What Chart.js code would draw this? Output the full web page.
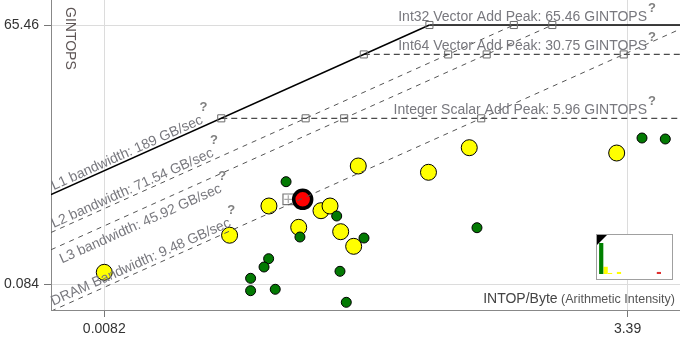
<!DOCTYPE html>
<html>
<head>
<meta charset="utf-8">
<script src="https://cdn.jsdelivr.net/npm/chart.js@4/dist/chart.umd.min.js"></script>
<style>
    body { margin: 0; background: #fff; }
    #wrap { position: relative; width: 680px; height: 340px; }
    #mini {
        position: absolute; left: 596px; top: 234px; width: 75px; height: 44px;
        border: 1px solid #a0a0a0; background: #fff;
    }
    #mini .corner {
        position: absolute; left: 0; top: 0; width: 0; height: 0;
        border-top: 10px solid #000; border-right: 10px solid transparent;
    }
</style>
</head>
<body>
<div id="wrap">
    <canvas id="roofline" width="680" height="340"></canvas>
    <div id="mini"><div class="corner"></div><canvas id="mini-hist" width="75" height="44"></canvas></div>
</div>
<script>
// axis ticks
const xTicks = [0.0082, 3.39];
const yTicks = [0.084, 65.46];

// memory roofs (GB/sec)
const bwNames = ['L1 bandwidth', 'L2 bandwidth', 'L3 bandwidth', 'DRAM Bandwidth'];
const bwValues = [189, 71.54, 45.92, 9.48];

// compute roofs (GINTOPS)
const peakNames = ['Int32 Vector Add Peak', 'Int64 Vector Add Peak', 'Integer Scalar Add Peak'];
const peakValues = [65.46, 30.75, 5.96];

// loops: arithmetic intensity (INTOP/Byte) and performance (GINTOPS)
const yellowAI   = [0.0082, 0.0347, 0.0546, 0.0769, 0.0994, 0.1103, 0.1247, 0.1448, 0.1527, 0.3426, 0.548, 2.991];
const yellowPerf = [0.1143, 0.2963, 0.6272, 0.363, 0.5561, 0.6272, 0.3243, 0.2228, 1.752, 1.491, 2.803, 2.446];
const greenAI    = [0.0665, 0.1191, 0.078, 0.1631, 0.0544, 0.0516, 0.1237, 0.0442, 0.0442, 0.0587, 0.133, 0.5988, 4.003, 5.234];
const greenPerf  = [1.171, 0.4853, 0.2829, 0.2758, 0.1621, 0.131, 0.1173, 0.098, 0.0713, 0.0739, 0.0529, 0.3593, 3.596, 3.505];
const redAI      = [0.0805];
const redPerf    = [0.7451];
const pinnedAI   = [0.0682];
const pinnedPerf = [0.7451];

// loop-count histogram for the small overview panel
const miniBins   = ['1','2','3','4','5','6','7','8','9','10','11','12','13','14','15','16'];
const miniGreen  = [30, 0, 0, 0, 0, 0, 0, 0, 0, 0, 0, 0, 0, 0, 0, 0];
const miniYellow = [0, 7, 1, 0, 2, 0, 0, 0, 0, 0, 0, 0, 0, 0, 0, 0];
const miniRed    = [0, 0, 0, 0, 0, 0, 0, 0, 0, 0, 0, 0, 0, 2, 0, 0];

const X_MIN = 0.004441, X_MAX = 6.2;
const Y_MIN = 0.04342, Y_MAX = 124.4;

const FONT = '"Liberation Sans", Arial, sans-serif';
const LABEL_GREY = '#78787e';

const pts = (xs, ys) => xs.map((v, i) => ({ x: v, y: ys[i] }));

function roofDatasets() {
    const sets = [];
    const topPeak = Math.max(...peakValues);
    bwValues.forEach((bw, i) => {
        sets.push({
            type: 'line',
            data: [{ x: X_MIN, y: bw * X_MIN }, { x: topPeak / bw, y: topPeak }],
            borderColor: i === 0 ? '#000' : '#555',
            borderWidth: i === 0 ? 1.5 : 1,
            borderDash: i === 0 ? [] : [5, 5],
            pointRadius: 0,
            order: 1
        });
    });
    peakValues.forEach((p, i) => {
        sets.push({
            type: 'line',
            data: [{ x: p / bwValues[0], y: p }, { x: X_MAX, y: p }],
            borderColor: i === 0 ? '#000' : '#4a4a4a',
            borderWidth: i === 0 ? 1.5 : 1.3,
            borderDash: i === 0 ? [] : [6, 4],
            pointRadius: 0,
            order: 1
        });
    });
    // roof intersections
    const corners = [];
    peakValues.forEach(p => bwValues.forEach(bw => corners.push({ x: p / bw, y: p })));
    sets.push({
        type: 'scatter',
        data: corners,
        pointStyle: 'rect',
        pointRadius: 5,
        backgroundColor: 'rgba(255,255,255,0)',
        borderColor: '#6a6a6a',
        borderWidth: 1,
        order: 0
    });
    return sets;
}

function drawQ(ctx, x, y) {
    ctx.save();
    ctx.font = 'bold 13px ' + FONT;
    ctx.fillStyle = '#808080';
    ctx.textAlign = 'center';
    ctx.textBaseline = 'middle';
    ctx.fillText('?', x, y);
    ctx.restore();
}

// offsets of bandwidth labels from their roof line (positive = above)
const bwLabelShift = [3, 3, -17, 4];

const roofText = {
    id: 'roofText',
    afterDatasetsDraw(chart) {
        const { ctx, chartArea: a, scales: { x, y } } = chart;
        ctx.save();
        ctx.font = '14px ' + FONT;
        ctx.fillStyle = LABEL_GREY;

        peakNames.forEach((name, i) => {
            const py = y.getPixelForValue(peakValues[i]);
            ctx.textAlign = 'right';
            ctx.fillText(`${name}: ${peakValues[i]} GINTOPS`, a.right - 33, py - 4);
            drawQ(ctx, a.right - 28, py - 17);
        });

        bwNames.forEach((name, i) => {
            const bw = bwValues[i];
            const px0 = a.left + 4;
            const py0 = y.getPixelForValue(bw * x.getValueForPixel(px0));
            const py1 = y.getPixelForValue(bw * x.getValueForPixel(px0 + 100));
            const ang = Math.atan2(py1 - py0, 100);
            const txt = `${name}: ${bw} GB/sec`;
            ctx.save();
            ctx.translate(px0, py0);
            ctx.rotate(ang);
            ctx.textAlign = 'left';
            ctx.fillText(txt, 0, -bwLabelShift[i]);
            const w = ctx.measureText(txt).width;
            ctx.restore();
            const ex = w + 6, ey = -bwLabelShift[i] - 14;
            drawQ(ctx, px0 + Math.cos(ang) * ex - Math.sin(ang) * ey,
                       py0 + Math.sin(ang) * ex + Math.cos(ang) * ey);
        });

        // axis titles inside the plot
        ctx.save();
        ctx.translate(a.left + 19, a.top + 7);
        ctx.rotate(Math.PI / 2);
        ctx.fillStyle = '#5d5555';
        ctx.textAlign = 'left';
        ctx.textBaseline = 'middle';
        ctx.fillText('GINTOPS', 0, 0);
        ctx.restore();

        ctx.textAlign = 'right';
        ctx.fillStyle = '#555';
        ctx.font = '12.5px ' + FONT;
        const sub = ' (Arithmetic Intensity)';
        ctx.fillText(sub, a.right - 5, a.bottom - 7);
        const sw = ctx.measureText(sub).width;
        ctx.font = '14px ' + FONT;
        ctx.fillStyle = '#444';
        ctx.fillText('INTOP/Byte', a.right - 5 - sw, a.bottom - 7);
        ctx.restore();
    }
};

new Chart(document.getElementById('roofline'), {
    type: 'scatter',
    data: {
        datasets: [
            ...roofDatasets(),
            {
                data: pts(pinnedAI, pinnedPerf),
                pointStyle: 'rect', pointRadius: 7.5,
                backgroundColor: 'rgba(255,255,255,0.6)', borderColor: '#777', borderWidth: 1.2,
                order: 3
            },
            {
                data: pts(pinnedAI, pinnedPerf),
                pointStyle: 'cross', pointRadius: 4,
                borderColor: '#222', borderWidth: 1.2,
                order: 3
            },
            {
                data: pts(greenAI, greenPerf),
                pointRadius: 5, backgroundColor: '#037a03', borderColor: '#000', borderWidth: 1,
                order: 2
            },
            {
                data: pts(yellowAI, yellowPerf),
                pointRadius: 8, backgroundColor: '#ffff00', borderColor: '#000', borderWidth: 1,
                order: 2
            },
            {
                data: pts(redAI, redPerf),
                pointRadius: 9, backgroundColor: '#ff0000', borderColor: '#000', borderWidth: 3.5,
                order: 2
            }
        ]
    },
    options: {
        responsive: false,
        animation: false,
        layout: { padding: 0, autoPadding: false },
        plugins: { legend: { display: false }, tooltip: { enabled: false } },
        scales: {
            x: {
                type: 'logarithmic',
                min: X_MIN,
                max: X_MAX,
                afterBuildTicks: s => { s.ticks = xTicks.map(v => ({ value: v })); },
                afterFit: s => { s.height = 30; s.paddingLeft = 0; s.paddingRight = 0; },
                ticks: {
                    callback: (v, i) => String(xTicks[i]),
                    font: { family: FONT, size: 14 }, color: '#333',
                    padding: 4, maxRotation: 0, autoSkip: false
                },
                grid: { color: '#dcdcdc', tickColor: '#777', tickLength: 7 },
                border: { color: '#888' }
            },
            y: {
                type: 'logarithmic',
                min: Y_MIN,
                max: Y_MAX,
                afterBuildTicks: s => { s.ticks = yTicks.map(v => ({ value: v })); },
                afterFit: s => { s.width = 51; s.paddingTop = 0; s.paddingBottom = 0; },
                ticks: {
                    callback: (v, i) => String(yTicks[i]),
                    font: { family: FONT, size: 14 }, color: '#333',
                    padding: 5, autoSkip: false
                },
                grid: { color: '#dcdcdc', tickColor: '#777', tickLength: 7 },
                border: { color: '#888' }
            }
        }
    },
    plugins: [roofText]
});

// small overview histogram
new Chart(document.getElementById('mini-hist'), {
    type: 'bar',
    data: {
        labels: miniBins,
        datasets: [
            { data: miniGreen, backgroundColor: '#008000' },
            { data: miniYellow, backgroundColor: '#ffff00' },
            { data: miniRed, backgroundColor: '#e03030' }
        ]
    },
    options: {
        responsive: false,
        animation: false,
        layout: { padding: { left: 2, right: 2, top: 8, bottom: 5 }, autoPadding: false },
        plugins: { legend: { display: false }, tooltip: { enabled: false } },
        datasets: { bar: { barPercentage: 1, categoryPercentage: 0.95 } },
        scales: {
            x: { stacked: true, display: false },
            y: { stacked: true, display: false, min: 0, max: 30 }
        }
    }
});
</script>
</body>
</html>
